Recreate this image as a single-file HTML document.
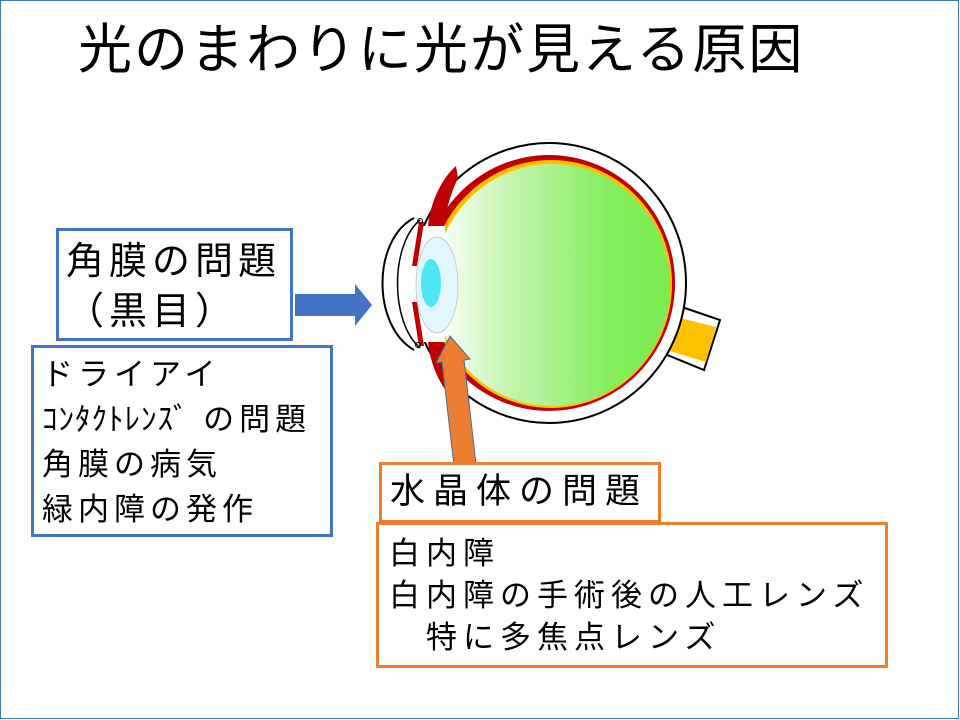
<!DOCTYPE html>
<html><head><meta charset="utf-8"><style>
body{margin:0;width:960px;height:720px;position:relative;background:#fff;overflow:hidden;font-family:"Liberation Sans","Noto Sans CJK JP",sans-serif;color:#000}
.frame{position:absolute;left:0;top:0;width:957px;height:717px;border:1.5px solid #4472c4}
.t{position:absolute;white-space:nowrap}
.box{position:absolute;background:#fff;box-sizing:border-box}
</style></head><body>
<div class="frame"></div>
<div class="t" style="left:78px;top:18px;font-size:54px;line-height:64px;letter-spacing:2px">光のまわりに光が見える原因</div>
<svg style="position:absolute;left:0;top:0" width="960" height="720">
<defs><linearGradient id="g" x1="0" x2="1" y1="0" y2="0">
<stop offset="0" stop-color="#fff"/><stop offset="0.3" stop-color="#c8f5b4"/><stop offset="0.75" stop-color="#82ee5c"/><stop offset="1" stop-color="#7aeb50"/></linearGradient></defs>
<!-- optic nerve -->
<polygon points="673,304 720,320 704,370 660,352" fill="#fff" stroke="#000" stroke-width="2"/>
<polygon points="648,310 716,327 706,362 643,343" fill="#ffc000"/>
<ellipse cx="549" cy="283" rx="137" ry="140" fill="#fff" stroke="#000" stroke-width="2"/>
<!-- cornea bulge -->
<path d="M414,218 C372,240 372,326 414,350 Z" fill="#fff" stroke="none"/>
<path d="M414,218 C372,240 372,326 414,350" fill="none" stroke="#000" stroke-width="2"/>
<path d="M420,220 C390,245 390,322 420,348" fill="none" stroke="#000" stroke-width="1.5"/>
<ellipse cx="549" cy="283" rx="126" ry="128" fill="#c00000"/>
<ellipse cx="551" cy="284" rx="121" ry="124" fill="#ffc000"/>
<ellipse cx="552" cy="285" rx="118" ry="121" fill="url(#g)"/>
<rect x="421" y="226" width="24" height="116" fill="#fff"/>
<path d="M456,166 C440,180 430,205 428,226 L444,226 C446,210 450,195 458,178 Z" fill="#c00000"/>
<path d="M456,402 C440,388 430,363 428,342 L444,342 C446,358 450,373 458,390 Z" fill="#c00000"/>
<path d="M424,222 L417,266 L412,266 L419,222 Z" fill="#c00000"/>
<path d="M424,346 L417,302 L412,302 L419,346 Z" fill="#c00000"/>
<ellipse cx="437" cy="285" rx="21" ry="48" fill="#dff7fd" stroke="#ccc" stroke-width="1"/>
<ellipse cx="431" cy="283" rx="10" ry="24" fill="#4ee6f5"/>
<circle cx="420" cy="221" r="2.5" fill="none" stroke="#000"/>
<circle cx="418" cy="345" r="2.5" fill="none" stroke="#000"/>
<!-- blue arrow -->
<polygon points="295,294 355,294 355,284 372,305 355,326 355,316 295,316" fill="#4472c4"/>
<!-- orange arrow -->
<polygon points="454,466 442,362 436,363 450,336 470,359 464,360 476,464" fill="#ed7d31" stroke="#41719c" stroke-width="1"/>
</svg>
<div class="box" style="left:56px;top:228px;width:237px;height:113px;border:3px solid #4472c4"></div>
<div class="t" style="left:66px;top:237px;font-size:38px;line-height:50px;letter-spacing:5px">角膜の問題<br>（黒目）</div>
<div class="box" style="left:31px;top:345px;width:302px;height:192px;border:3px solid #4472c4"></div>
<div class="t" style="left:42px;top:352px;font-size:31px;line-height:45px;letter-spacing:5px">ドライアイ<br><span style="letter-spacing:1px">ｺﾝﾀｸﾄﾚﾝｽﾞ</span> の問題<br>角膜の病気<br>緑内障の発作</div>
<div class="box" style="left:379px;top:462px;width:282px;height:61px;border:3px solid #ed7d31"></div>
<div class="t" style="left:390px;top:470px;font-size:35px;line-height:44px;letter-spacing:8px">水晶体の問題</div>
<div class="box" style="left:376px;top:522px;width:512px;height:146px;border:3px solid #ed7d31"></div>
<div class="t" style="left:389px;top:533px;font-size:31px;line-height:42px;letter-spacing:6px">白内障<br>白内障の手術後の人工レンズ<br>　特に多焦点レンズ</div>
</body></html>
